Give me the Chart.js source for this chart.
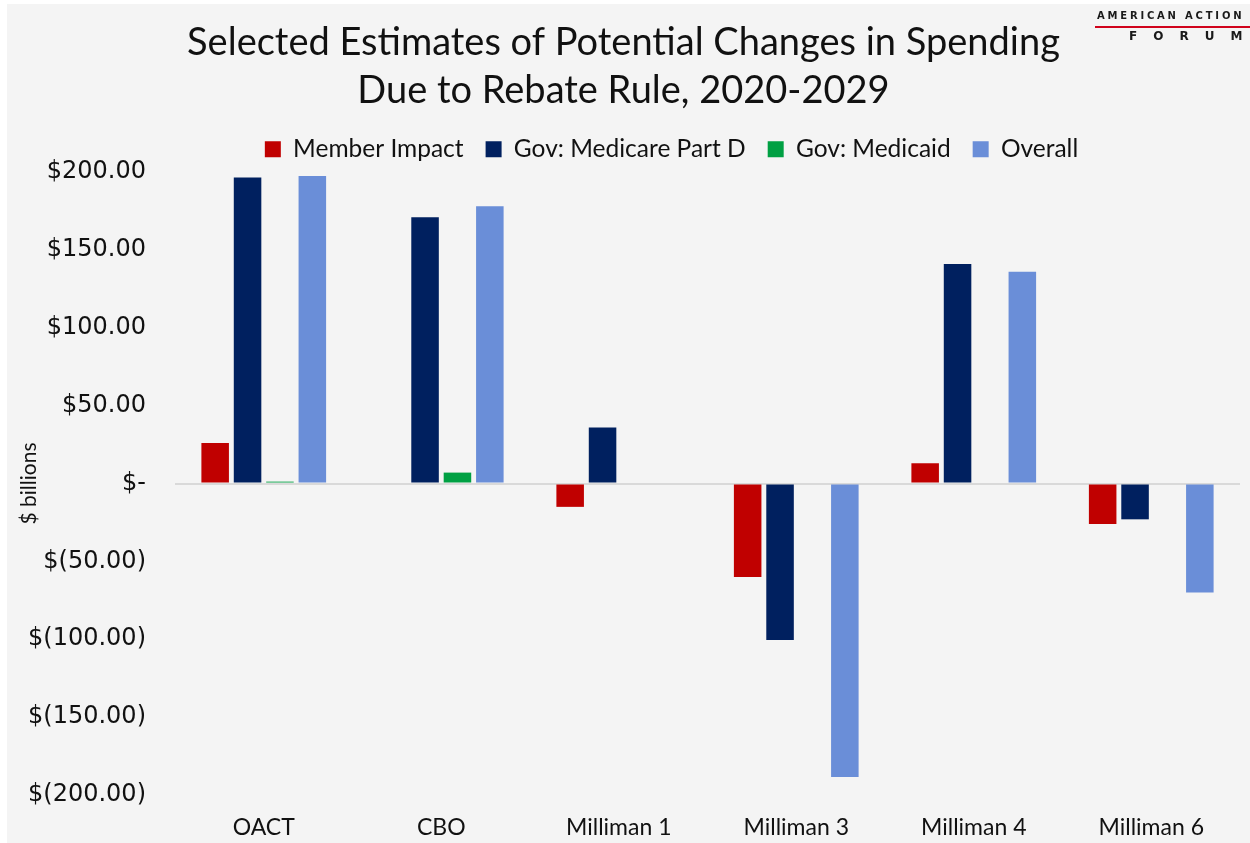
<!DOCTYPE html>
<html>
<head>
<meta charset="utf-8">
<script src="https://cdn.jsdelivr.net/npm/chart.js@4/dist/chart.umd.min.js"></script>
<style>
  html,body{margin:0;padding:0;background:#fff;}
  #wrap{position:absolute;left:7px;top:4px;width:1243px;height:839px;background:#f4f4f4;}
  .logo{position:absolute;font-family:"DejaVu Sans",sans-serif;font-weight:bold;color:#1a1a1a;white-space:nowrap;}
  #l1{left:1097px;top:10px;font-size:10px;letter-spacing:2.8px;line-height:12px;}
  #lbar{left:1095px;top:26px;width:155px;height:2px;background:#d0021b;}
  #l2{left:1129px;top:29px;font-size:12px;letter-spacing:16px;line-height:14px;}
</style>
</head>
<body>
<div id="wrap"><canvas id="c" width="1243" height="839"></canvas></div>
<div class="logo" id="l1">AMERICAN ACTION</div>
<div class="logo" id="lbar"></div>
<div class="logo" id="l2">FORUM</div>
<script>
const categories=['OACT','CBO','Milliman 1','Milliman 3','Milliman 4','Milliman 6'];
const memberImpact=[26,null,-15,-60,13,-26];
const govPartD=[196.5,171,36,-100.5,141,-23];
const govMedicaid=[1.2,7,null,null,null,null];
const overall=[197.5,178,null,-188.5,136,-70];

function money(v){
  if(v===0) return '$-';
  const s=Math.abs(v).toFixed(2);
  return v<0?'$('+s+')':'$'+s;
}

const ds=(label,data,color)=>({label,data,backgroundColor:color,borderWidth:0});

// the legend sits a bit right of centre in the original
const legendShift={id:'legendShift',afterLayout(chart){
  const l=chart.legend; if(!l) return;
  l.left+=48; l.right+=48;
}};

const chart=new Chart(document.getElementById('c'),{
  type:'bar',
  data:{labels:categories,datasets:[
    ds('Member Impact',memberImpact,'#c00000'),
    ds('Gov: Medicare Part D',govPartD,'#00205f'),
    ds('Gov: Medicaid',govMedicaid,'#00a043'),
    ds('Overall',overall,'#6a8ed8')
  ]},
  plugins:[legendShift],
  options:{
    responsive:false,animation:false,
    categoryPercentage:0.73,barPercentage:0.85,
    layout:{padding:{left:0,right:10,top:0,bottom:0}},
    plugins:{
      tooltip:{enabled:false},
      title:{display:true,text:['Selected Estimates of Potential Changes in Spending','Due to Rebate Rule, 2020-2029'],
        color:'#111',font:{family:'Lato',size:38,weight:'normal',lineHeight:48/38},padding:{top:15,bottom:0}},
      legend:{display:true,labels:{color:'#111',font:{family:'Lato',size:24.5},boxWidth:16,boxHeight:16,padding:22}}
    },
    scales:{
      x:{grid:{display:false,drawTicks:false},border:{display:false},
        afterFit(s){s.height=48;},
        ticks:{color:'#111',font:{family:'Lato',size:23},padding:19}},
      y:{min:-200,max:200,
        afterFit(s){s.width=168;},
        border:{display:false},
        grid:{drawTicks:false,lineWidth:2,color:c=>c.tick&&c.tick.value===0?'#d9d9d9':'rgba(0,0,0,0)'},
        ticks:{stepSize:50,color:'#111',font:{family:'DejaVu Sans',size:24},padding:29,callback:v=>money(v)},
        title:{display:true,text:'$ billions',color:'#111',font:{family:'Lato',size:21},padding:{top:10,bottom:0}}
      }
    }
  }
});

// legend keeps its wide item gaps but not the tall box that padding would give it
const legendFit=chart.legend.fit;
chart.legend.fit=function(){legendFit.call(this);this.height=57;};
chart.update();
</script>
</body>
</html>
